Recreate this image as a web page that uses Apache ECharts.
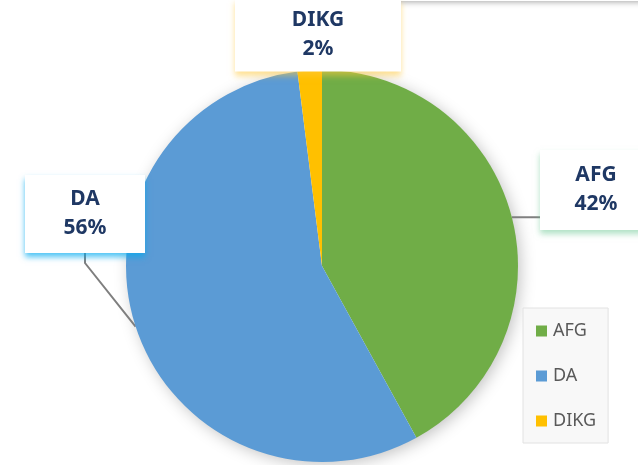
<!DOCTYPE html>
<html>
<head>
<meta charset="utf-8">
<script src="https://cdn.jsdelivr.net/npm/echarts@6/dist/echarts.min.js"></script>
<style>
	html, body { margin: 0; padding: 0; background: #fff; }
	#chart { width: 638px; height: 465px; }
</style>
</head>
<body>
<div id="chart"></div>
<script>
	var categories = ['AFG', 'DA', 'DIKG'];
	var values = [42, 56, 2];
	var colors = ['#70AD47', '#5B9BD5', '#FFC000'];

	// label boxes: centre, size and glow colour for each slice
	var labelBoxes = [
		{ x: 596, y: 190, width: 112, pad: [10, 0, 12, 0], glow: 'rgba(112,200,150,0.55)' },
		{ x: 85, y: 214, width: 120, pad: [5, 0, 15, 0], glow: 'rgba(0,170,240,0.7)' },
		{ x: 318, y: 35, width: 166, pad: [9, 0, 6, 0], glow: 'rgba(255,200,60,0.55)' }
	];

	var pieCenter = [322, 266];
	var pieRadius = 196;

	var pieData = categories.map(function (name, i) {
		var b = labelBoxes[i];
		return {
			name: name,
			value: values[i],
			itemStyle: { color: colors[i] },
			label: {
				width: b.width,
				padding: b.pad,
				shadowColor: b.glow
			}
		};
	});

	var chart = echarts.init(document.getElementById('chart'));
	chart.setOption({
		animation: false,
		backgroundColor: '#ffffff',
		graphic: [{
			type: 'rect',
			shape: { x: 372, y: -40, width: 300, height: 41 },
			style: { fill: '#fff', shadowBlur: 6, shadowColor: 'rgba(0,0,0,0.35)', shadowOffsetY: 1 },
			z: -1
		}, {
			// soft shadow under the pie
			type: 'circle',
			shape: { cx: pieCenter[0], cy: pieCenter[1], r: pieRadius - 1 },
			style: { fill: '#fff', shadowBlur: 16, shadowColor: 'rgba(0,0,0,0.25)', shadowOffsetX: 3, shadowOffsetY: 3 },
			z: -1
		}],
		legend: {
			orient: 'vertical',
			left: 523,
			top: 308,
			padding: [14, 12, 13, 13],
			itemGap: 27,
			itemWidth: 11,
			itemHeight: 11,
			icon: 'rect',
			backgroundColor: '#f8f8f8',
			borderColor: '#e2e2e2',
			borderWidth: 1,
			textStyle: { color: '#595959', fontSize: 18, fontFamily: 'Noto Sans', padding: [0, 0, 0, 1] },
			data: categories
		},
		series: [{
			type: 'pie',
			center: pieCenter,
			radius: pieRadius,
			startAngle: 90,
			clockwise: true,
			label: {
				show: true,
				position: 'outside',
				formatter: '{b}\n{d}%',
				color: '#1F3864',
				fontFamily: 'Noto Sans',
				fontWeight: 'bold',
				fontSize: 21,
				lineHeight: 29,
				align: 'center',
				backgroundColor: '#ffffff',
				shadowBlur: 6,
				shadowOffsetY: 4
			},
			labelLine: {
				show: true,
				length: 15,
				length2: 10,
				lineStyle: { color: '#7f7f7f', width: 2 }
			},
			labelLayout: function (params) {
				var b = labelBoxes[params.dataIndex];
				var out = { x: b.x, y: b.y, align: 'center', verticalAlign: 'middle' };
				var pts = params.labelLinePoints;
				if (params.dataIndex === 0 && pts) {
					// straight leader from the slice edge to the box
					var p0 = pts[0];
					out.labelLinePoints = [p0, [p0[0] + 12, p0[1]], [b.x - b.width / 2 + 5, p0[1]]];
				}
				return out;
			},
			emphasis: { disabled: true },
			data: pieData
		}]
	});
</script>
</body>
</html>
